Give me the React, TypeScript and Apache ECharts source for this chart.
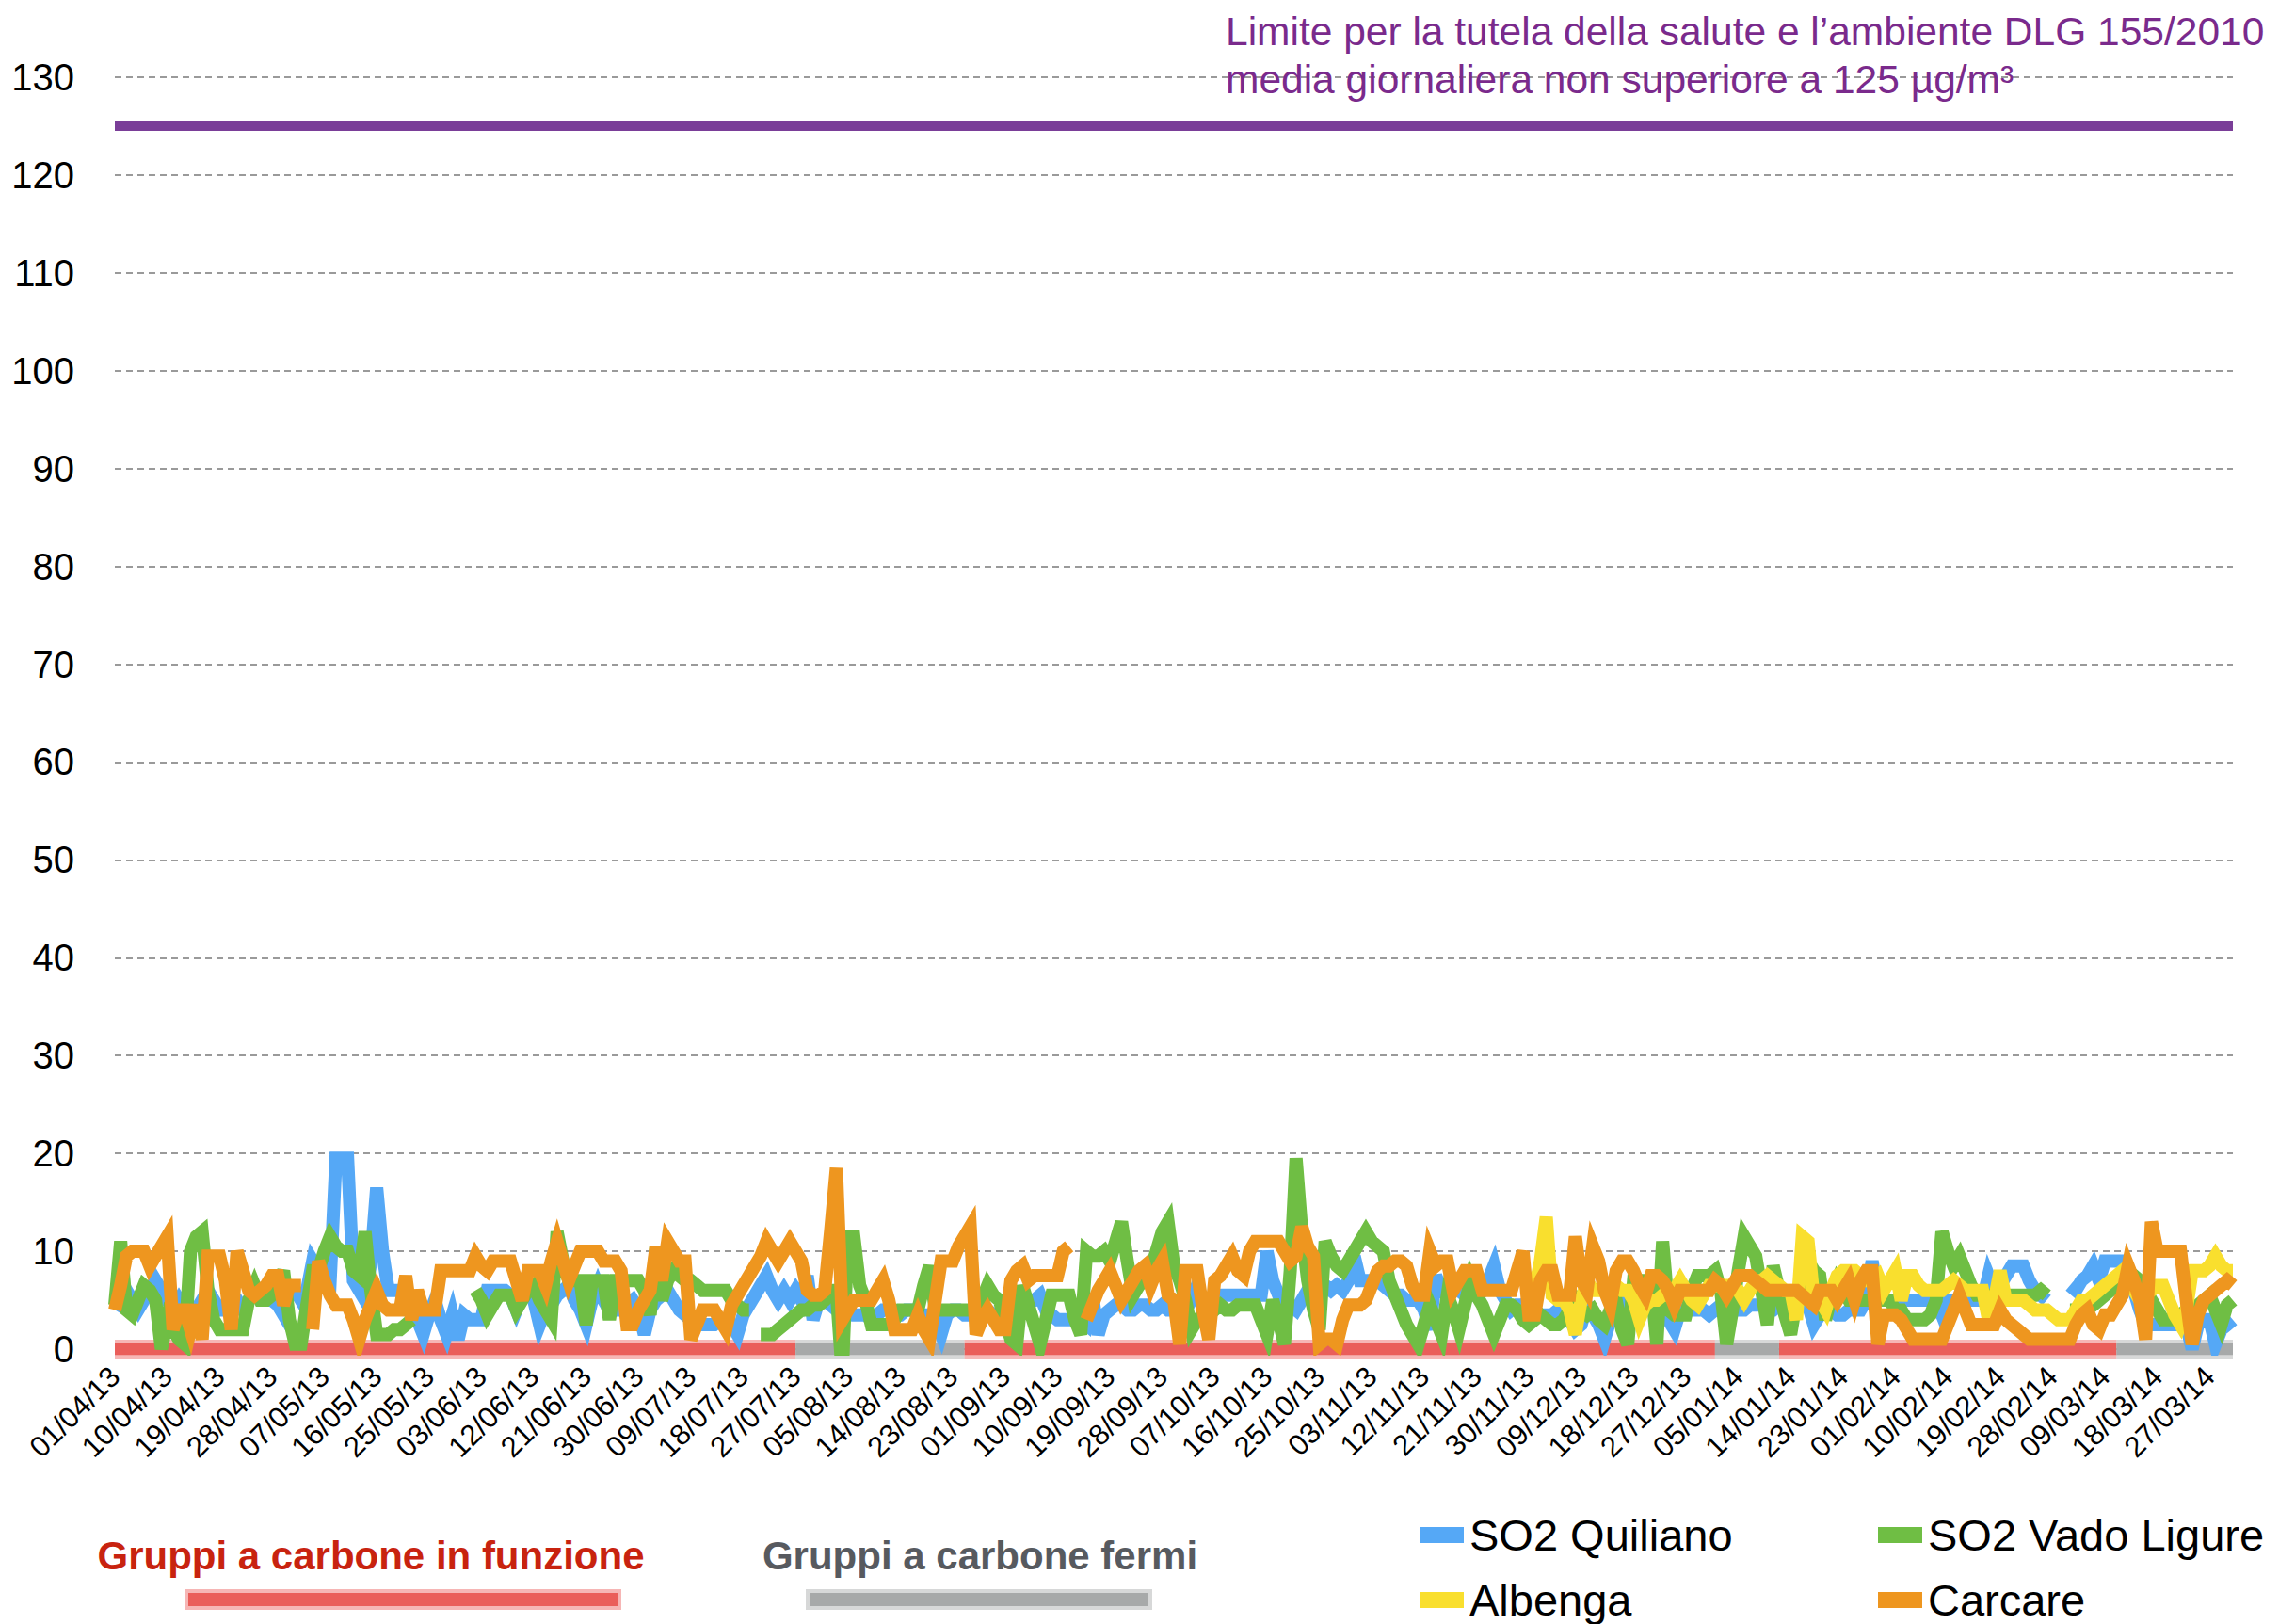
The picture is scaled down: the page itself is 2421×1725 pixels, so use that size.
import React, { useEffect, useRef } from "react";
import * as echarts from "echarts";

const FONT = '"Liberation Sans", Arial, Helvetica, sans-serif';

// ---- categories: daily dates 01/04/13 .. 31/03/14 ----
const START_UTC = Date.UTC(2013, 3, 1);
const DAY_COUNT = 365;
const categories: string[] = Array.from({ length: DAY_COUNT }, (_, i) => {
  const d = new Date(START_UTC + i * 86400000);
  const dd = String(d.getUTCDate()).padStart(2, "0");
  const mm = String(d.getUTCMonth() + 1).padStart(2, "0");
  const yy = String(d.getUTCFullYear() % 100).padStart(2, "0");
  return `${dd}/${mm}/${yy}`;
});

// ---- y axis ----
const Y_MIN = 0;
const Y_MAX = 130;
const Y_STEP = 10;
const LIMIT = 125;

// ---- SO2 Quiliano (µg/m3) ----
const quiliano: (number | null)[] = [
  4, 5, 6, 5, 4, 5, 6, 7, 6, 5,
  4, 5, 4, 3, 4, 5, 6, 5, 4, 4,
  5, 5, 4, 5, 6, 5, 5, 5, 4.5, 3.5,
  6, 6, 5, 6, 9, 8, 8, 7, 19.5, 19.5,
  19.5, 7, 6, 5, 9, 16.5, 10, 6, 6, 6,
  6, 4, 3, 1.5, 3.5, 5, 3, 1.5, 3.5, 1,
  3.5, 3, 3, 3, 6, 6, 6, 6, 5.5, 4,
  5.5, 6, 5, 2.5, 4, 4.5, 5.5, 6, 6.5, 5,
  4, 2.5, 5, 6.5, 5, 4, 4, 4, 4.5, 5,
  4, 1.5, 4, 5, 5.5, 6, 5, 4, 3.5, 3,
  2.5, 2.5, 2.5, 2.5, 3, 3, 2.5, 1.5, 3.5, 4.5,
  5.5, 6.5, 7.5, 6, 5, 6, 5, 6, 5, 7.5,
  3, 5, 5, 4.5, 4, 4, 4, 3.5, 3.5, 3.5,
  3, 3.5, 4, 4, 3.5, 3.5, 4, 4, 3.5, 3.5,
  3.5, 3, 1.5, 3.5, 4, 4, 3.5, 3.5, 4, 4,
  4, 3.5, 3.5, 4, 4, 4, 4.5, 5, 5, 5.5,
  4, 3.5, 3, 3, 3, 3, 3, 2.5, 5.5, 1.5,
  3.5, 4, 4.5, 4.5, 4, 4, 4.5, 4.5, 4, 4,
  4.5, 4, 4, 4, 4, 5, 6.5, 5, 5, 5.5,
  5.5, 5.5, 5.5, 5.5, 5.5, 5.5, 5.5, 5.5, 10, 7,
  5.5, 5, 4.5, 4, 5, 6, 6.5, 6, 6.5, 6,
  6.5, 6, 7, 9.5, 7, 7, 7, 7, 6.5, 6,
  5.5, 5.5, 5, 5, 5, 4, 2, 7.5, 6, 5.5,
  6, 6, 5.5, 5.5, 6, 6, 7, 8.5, 6, 5,
  4, 4.5, 4.5, 5, 4, 3.5, 3.5, 3.5, 4, 3.5,
  3, 2, 2.5, 4.5, 3.5, 2.5, 1, 3, 4, 4.5,
  5, 4.5, 4, 4, 4.5, 4, 3.5, 3, 2, 4,
  4, 4, 4, 4, 3.5, 4, 4.5, 4.5, 4, 4,
  4, 4.5, 4.5, 4.5, 4, 4, 4.5, 4.5, 4.5, 4.5,
  4.5, 4.5, 2.5, 3.5, 4, 4, 3.5, 3.5, 4, 4,
  4, 5, 9, 5, 5, 5, 5, 5, 5, 5,
  5, 5, 5, 5, 3.5, 5, 5, 5, 5, 5,
  5, 5, 7.5, 6, 6.5, 7.5, 8.5, 8.5, 8.5, 7,
  6, 5.5, 5, null, null, null, 6.5, 6, 7, 7.5,
  8.5, 7, 9, 9, 9, 9, 8, 6, 4, 2.5,
  2.5, 2.5, 2.5, 2.5, 2.5, 2.5, 2.5, 0, 2.5, 3,
  3, 0.5, 2, 2.5, 3,
];

// ---- SO2 Vado Ligure ----
const vadoLigure: (number | null)[] = [
  4.5, 11, 4, 3.5, 5, 6.5, 6, 5, 0, 3,
  2, 1, 0.5, 10, 11.5, 12, 6, 3, 2, 2,
  2, 2, 2, 5, 6.5, 5, 5, 5.5, 6.5, 8,
  3, 0.5, 0.5, 4.5, 8, 8, 10, 11.5, 10.5, 10,
  10, 8, 7.5, 12, 6, 1.5, 1.5, 1.5, 2, 2,
  2.5, 3, null, null, null, null, null, null, null, null,
  null, null, 6, 5, 3.5, 4.5, 5.5, 5.5, 5.5, 4,
  5, 6, 6.5, 5, 4, 3, 12, 9, 7, 7,
  7, 2.5, 7, 7, 7, 3, 7, 7, 7, 7,
  7, 6, 3.5, 10.5, 5, 7, 8, 7.5, 7, 7,
  6.5, 6, 6, 6, 6, 6, 5, 4.5, 4, 4,
  null, 1.5, 1.5, 1.5, 2, 2.5, 3, 3.5, 4, 4,
  4.5, 4.5, 5, 6, 6, -2.5, 11.5, 11.5, 6.5, 5,
  2.5, 2.5, 2.5, 2.5, 3, 4, 4, 4, 4, 6.5,
  8.5, 4, 4, 4, 4, 4, 4, 4, 4, 5,
  6.5, 5.5, 5, 3, 1, 0.5, 6.5, 4.5, 2.5, 0.5,
  3, 5.5, 5.5, 5.5, 5.5, 3, 1.5, 10, 9.5, 9.5,
  10, 9, 11, 13, 9, 5.5, 6.5, 7, 8, 10,
  12, 13, 8.5, 7, 5, 2, 3, 3.5, 3.5, 4,
  4.5, 4, 4, 4.5, 4.5, 4.5, 4.5, 3, 1.5, 5,
  3, 0.5, 8, 19.5, 12, 7, 4, 2, 11, 9.5,
  8.5, 8, 9, 10, 11, 12, 11, 10.5, 10, 7,
  5.5, 4, 2.5, 1.5, 0.5, 2.5, 4.5, 3, 1.5, 5.5,
  4, 2, 4.5, 7, 5.5, 4.5, 3, 1.5, 3, 4.5,
  4.5, 4, 3, 2.5, 3, 3.5, 3, 2.5, 2.5, 3,
  4, 5, 4, 3.5, 4, 3, 2.5, 4, 5, 2,
  0.5, 7, 7, 7, 7, 0.5, 11, 4, 3.5, 3.5,
  3.5, 6, 7.5, 7.5, 7.5, 8, 6, 0.5, 4, 8,
  11.5, 10.5, 9.5, 6, 2.5, 8.5, 6, 3.5, 1.5, 5,
  7.5, 9, 8, 7.5, 3, 5.5, 7, 6, 5, 5,
  5, 5, 5, 5, 5, 5, 4, 4, 3, 3,
  3, 3, 3.5, 5, 12, 10, 8.5, 9.5, 8, 6.5,
  5.5, 5.5, 5.5, 5.5, 5.5, 5.5, 5.5, 5.5, 5.5, 5.5,
  5.5, 6, 5.5, null, null, null, 4, 4, 4.5, 4.5,
  4.5, 5, 5.5, 6, 6.5, 7.5, 7.5, 7.5, 7, 6,
  5, 4, 3, 3, 3, 3.5, 4, 4, 4.5, 5,
  5.5, 4, 2.5, 4.5, 5,
];

// ---- Albenga (data available from 30/11/13, index 243) ----
const ALBENGA_FIRST_DAY = 243;
const albengaValues: number[] = [
  7, 6, 9, 13.5, 5.5, 5, 5,
  4, 1.5, 5, 7, 6, 6, 6.5, 6.5, 6.5, 6,
  6, 5, 3, 4.5, 5, 5, 5.5, 5.5, 6, 7,
  6, 5, 4.5, 5.5, 6.5, 6.5, 6.5, 6.5, 6.5, 6,
  5, 6, 7, 7, 7.5, 7, 6.5, 6, 6, 3,
  11.5, 11, 5, 5, 4, 6, 7.5, 8, 8, 8,
  7.5, 7, 7, 7.5, 6, 7, 8, 5, 7.5, 7.5,
  6.5, 6, 6, 6, 6, 6.5, 7, 6.5, 6, 6,
  6, 6, 3, 5, 8, 5, 5, 5, 5, 4.5,
  4, 4, 4, 3.5, 3, 3, 3, 4, 5, 5,
  5.5, 6, 6.5, 7, 7.5, 8, 7, 6, 5, 5.5,
  6, 6.5, 6.5, 5, 3.5, 2.5, 4, 8, 8, 8,
  8.5, 9.5, 8.5, 8, 8,
];

// ---- Carcare ----
const carcare: (number | null)[] = [
  4, 6.5, 9.5, 10, 10, 10, 8.5, 9.5, 10.5, 11.5,
  2, 4, 4, 2, 4.5, 1, 9.5, 9.5, 9.5, 7,
  2, 10, 8, 6, 5.5, 6, 6.5, 7.5, 7.5, 4.5,
  6.5, 6.5, 6.5, null, 2, 9, 7, 5.5, 4.5, 4.5,
  4.5, 3, 1, 3, 4.5, 6, 4.5, 4, 4, 4,
  7.5, 3, 6, 4, 4, 4, 8, 8, 8, 8,
  8, 8, 9.5, 8.5, 8, 9, 9, 9, 9, 7,
  5, 8, 8, 8, 6.5, 9, 11, 9, 7, 8.5,
  10, 10, 10, 10, 9, 9, 9, 8, 2.5, 2.5,
  4, 5, 6, 10.5, 7, 11, 10, 9, 9, 1,
  2.5, 4, 4, 4, 3, 2, 4.5, 5.5, 6.5, 7.5,
  8.5, 9.5, 11, 10, 9, 10, 11, 10, 9, 6,
  5.5, 5.5, 6, 12, 18.5, 3, 4, 5, 5, 5,
  5, 6, 7, 5, 2, 2, 2, 2, 3.5, 2,
  1, 5, 9, 9, 9, 10.5, 11.5, 12.5, 1.5, 3,
  4, 3, 2, 2, 7, 8, 8.5, 7, 7.5, 7.5,
  7.5, 7.5, 7.5, 10, 10.5, null, null, 3, 4.5, 6,
  7, 8, 6.5, 5, 6, 7, 8, 8.5, 6.5, 8,
  9, 5.5, 5, 0.5, 8, 8, 8, 4, 1, 7,
  7.5, 8.5, 9.5, 8, 7.5, 10, 11, 11, 11, 11,
  11, 10, 9, 9.5, 12.5, 10.5, 9.5, 0.5, 1, 1,
  0.5, 3, 4.5, 4.5, 4.5, 5, 6.5, 8, 8.5, 8.5,
  9, 9, 8.5, 6.5, 5.5, 5.5, 10, 8.5, 9, 9,
  6, 7, 8, 8, 8, 6, 6, 6, 6, 6,
  6, 8, 10, 3.5, 3.5, 7, 8, 8, 5.5, 5.5,
  5.5, 11.5, 7, 6, 10.5, 9, 6, 4.5, 8, 9,
  9, 8, 6.5, 5.5, 7.5, 7.5, 7, 6, 4.5, 6,
  6, 6, 6, 6, 6, 7, 6.5, 5.5, 6.5, 7.5,
  7.5, 7.5, 7, 6.5, 6, 6, 6, 6, 6, 6,
  5.5, 5, 4.5, 6, 6, 6, 5, 6, 7, 5,
  7, 8, 8, 0.5, 3.5, 3.5, 3.5, 3, 2, 1,
  1, 1, 1, 1, 1, 2.5, 4, 5.5, 4, 2.5,
  2.5, 2.5, 2.5, 2.5, 4, 3, 2.5, 2, 1.5, 1,
  1, 1, 1, 1, 1, 1, 1, 2.5, 3.5, 4,
  2.5, 2, 3.5, 3.5, 4.5, 5.5, 8.5, 7, 5, 1,
  13, 10, 10, 10, 10, 10, 5, 0.5, 3.5, 5,
  5.5, 6, 6.5, 7, 6.5,
];

// ---- coal plant status: periods (day indexes) with coal units stopped ----
const coalOffStart = [117, 275, 344];
const coalOffEnd = [146, 286, 364];

const SERIES_NAMES = ["SO2 Quiliano", "SO2 Vado Ligure", "Albenga", "Carcare"];
const SERIES_COLORS = ["#55A8F6", "#6FBE44", "#F9DF2E", "#EE961F"];
const BAND_ON_COLOR = "#EA5E5A";
const BAND_OFF_COLOR = "#A7A9A9";
const PURPLE = "#7A3E98";
const TITLE_PURPLE = "#7A2A8C";

const isOff = (i: number) =>
  coalOffStart.some((s, k) => i >= s && i <= coalOffEnd[k]);
const isBoundary = (i: number) =>
  coalOffStart.includes(i) || coalOffEnd.includes(i);

export default function App() {
  const ref = useRef<HTMLDivElement>(null);

  useEffect(() => {
    if (!ref.current) return;
    const chart = echarts.init(ref.current, undefined, { renderer: "svg" });

    const albenga = categories.map((_, i) =>
      i < ALBENGA_FIRST_DAY ? null : albengaValues[i - ALBENGA_FIRST_DAY] ?? null
    );
    const bandOn = categories.map((_, i) => (!isOff(i) || isBoundary(i) ? 0 : null));
    const bandOff = categories.map((_, i) => (isOff(i) ? 0 : null));

    const LINE_W = 14;
    const lineSeries = (name: string, data: (number | null)[], color: string, z: number) => ({
      name,
      type: "line",
      data,
      symbol: "none",
      connectNulls: false,
      z,
      itemStyle: { color },
      lineStyle: { color, width: LINE_W, join: "miter", miterLimit: 10, cap: "butt" },
      emphasis: { disabled: true },
    });

    const bandSeries = (name: string, data: (number | null)[], color: string, width: number, opacity: number) => ({
      name,
      type: "line",
      data,
      symbol: "none",
      connectNulls: false,
      z: 1,
      itemStyle: { color },
      lineStyle: { color, width, cap: "butt", opacity },
      emphasis: { disabled: true },
    });

    const legendItems = [
      { name: SERIES_NAMES[0], color: SERIES_COLORS[0], x: 1508, y: 1630 },
      { name: SERIES_NAMES[1], color: SERIES_COLORS[1], x: 1995, y: 1630 },
      { name: SERIES_NAMES[2], color: SERIES_COLORS[2], x: 1508, y: 1699 },
      { name: SERIES_NAMES[3], color: SERIES_COLORS[3], x: 1995, y: 1699 },
    ];

    const legendGraphics = legendItems.flatMap((it) => [
      {
        type: "rect",
        z: 100,
        shape: { x: it.x, y: it.y - 8, width: 47, height: 17 },
        style: { fill: it.color },
      },
      {
        type: "text",
        x: it.x + 53,
        y: it.y,
        z: 100,
        style: {
          text: it.name,
          font: `47px ${FONT}`,
          fill: "#000",
          textAlign: "left",
          textVerticalAlign: "middle",
          align: "left",
          verticalAlign: "middle",
        },
      },
    ]);

    const option = {
      animation: false,
      backgroundColor: "#ffffff",
      grid: { left: 122, right: 49, top: 82, bottom: 292, containLabel: false },
      xAxis: {
        type: "category",
        data: categories,
        boundaryGap: false,
        axisLine: { show: false },
        axisTick: { show: false },
        splitLine: { show: false },
        axisLabel: {
          interval: 8,
          rotate: 45,
          fontSize: 31,
          color: "#000",
          fontFamily: FONT,
          margin: 24,
        },
      },
      yAxis: {
        type: "value",
        min: Y_MIN,
        max: Y_MAX,
        interval: Y_STEP,
        axisLine: { show: false },
        axisTick: { show: false },
        axisLabel: { fontSize: 40, color: "#000", fontFamily: FONT, margin: 43 },
        splitLine: { lineStyle: { color: "#9a9a9a", width: 2, type: [7, 5] } },
      },
      series: [
        bandSeries("Gruppi a carbone in funzione", bandOn, BAND_ON_COLOR, 20, 0.45),
        bandSeries("Gruppi a carbone in funzione ", bandOn, BAND_ON_COLOR, 13, 1),
        bandSeries("Gruppi a carbone fermi", bandOff, BAND_OFF_COLOR, 20, 0.45),
        bandSeries("Gruppi a carbone fermi ", bandOff, BAND_OFF_COLOR, 13, 1),
        {
          ...lineSeries(SERIES_NAMES[0], quiliano, SERIES_COLORS[0], 3),
          markLine: {
            silent: true,
            symbol: ["none", "none"],
            label: { show: false },
            lineStyle: { color: PURPLE, width: 10, type: "solid" },
            data: [{ yAxis: LIMIT }],
          },
        },
        lineSeries(SERIES_NAMES[1], vadoLigure, SERIES_COLORS[1], 4),
        lineSeries(SERIES_NAMES[2], albenga, SERIES_COLORS[2], 5),
        lineSeries(SERIES_NAMES[3], carcare, SERIES_COLORS[3], 6),
      ],
      graphic: [
        {
          type: "text",
          x: 1302,
          y: 33,
          z: 100,
          style: {
            text: "Limite per la tutela della salute e l\u2019ambiente DLG 155/2010",
            font: `42.5px ${FONT}`,
            fill: TITLE_PURPLE,
            textAlign: "left",
            textVerticalAlign: "middle",
            align: "left",
            verticalAlign: "middle",
          },
        },
        {
          type: "text",
          x: 1302,
          y: 84,
          z: 100,
          style: {
            text: "media giornaliera non superiore a 125 \u00b5g/m\u00b3",
            font: `42.5px ${FONT}`,
            fill: TITLE_PURPLE,
            textAlign: "left",
            textVerticalAlign: "middle",
            align: "left",
            verticalAlign: "middle",
          },
        },
        {
          type: "text",
          x: 394,
          y: 1652,
          z: 100,
          style: {
            text: "Gruppi a carbone in funzione",
            font: `bold 42px ${FONT}`,
            fill: "#C8230F",
            textAlign: "center",
            textVerticalAlign: "middle",
            align: "center",
            verticalAlign: "middle",
          },
        },
        {
          type: "text",
          x: 1041,
          y: 1652,
          z: 100,
          style: {
            text: "Gruppi a carbone fermi",
            font: `bold 42px ${FONT}`,
            fill: "#575A5F",
            textAlign: "center",
            textVerticalAlign: "middle",
            align: "center",
            verticalAlign: "middle",
          },
        },
        {
          type: "rect",
          z: 100,
          shape: { x: 196, y: 1688, width: 464, height: 22 },
          style: { fill: BAND_ON_COLOR, opacity: 0.45 },
        },
        {
          type: "rect",
          z: 100,
          shape: { x: 200, y: 1692, width: 456, height: 14 },
          style: { fill: BAND_ON_COLOR },
        },
        {
          type: "rect",
          z: 100,
          shape: { x: 856, y: 1688, width: 368, height: 22 },
          style: { fill: BAND_OFF_COLOR, opacity: 0.45 },
        },
        {
          type: "rect",
          z: 100,
          shape: { x: 860, y: 1692, width: 360, height: 14 },
          style: { fill: BAND_OFF_COLOR },
        },
        ...legendGraphics,
      ],
    };

    chart.setOption(option as any);
    return () => chart.dispose();
  }, []);

  return (
    <div
      ref={ref}
      style={{ position: "absolute", left: 0, top: 0, width: 2421, height: 1725, background: "#fff" }}
    />
  );
}
